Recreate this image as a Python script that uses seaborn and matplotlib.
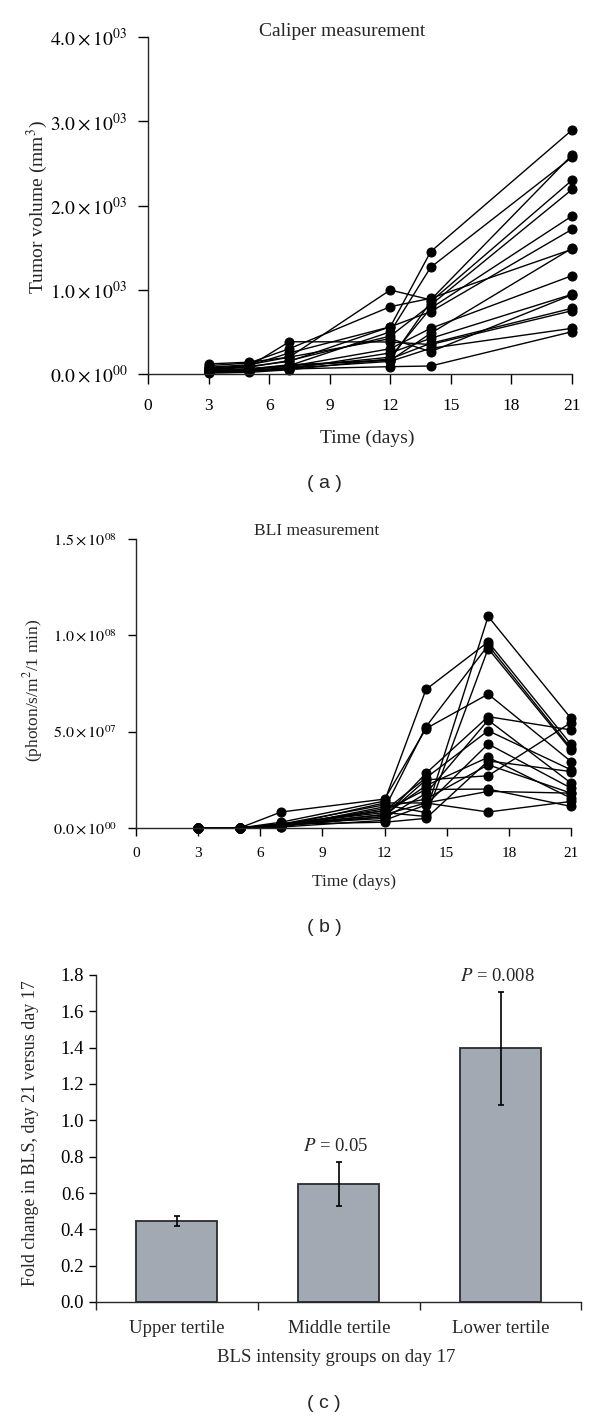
import matplotlib
matplotlib.use("Agg")
import matplotlib.pyplot as plt
import numpy as np
import pandas as pd
import seaborn as sns

# (a) caliper tumour volume, mm^3 -- one row per mouse
caliper_days = [3, 5, 7, 12, 14, 21]
caliper_volume = [
    [60, 90, 150, 560, 1452, 2896],
    [40, 60, 100, 500, 1266, 2572],
    [80, 110, 200, 997, 880, 2599],
    [30, 50, 100, 170, 858, 2300],
    [50, 80, 160, 450, 819, 2190],
    [20, 40, 80, 200, 780, 1875],
    [70, 100, 250, 560, 740, 1717],
    [30, 60, 110, 160, 483, 1492],
    [100, 130, 300, 799, 898, 1480],
    [40, 60, 90, 300, 542, 1167],
    [20, 30, 60, 250, 423, 946],
    [10, 20, 50, 180, 364, 780],
    [50, 90, 383, 380, 350, 751],
    [30, 40, 70, 150, 305, 542],
    [20, 40, 60, 87, 95, 502],
    [120, 140, 200, 420, 265, 940],
]

# (b) BLI signal, photon/s/m^2/1 min (x 1e7)
bli_days = [3, 5, 7, 12, 14, 17, 21]
bli_signal = [
    [0, 0, 0.2, 1.2, 0.8, 10.98, 5.69],
    [0, 0, 0.3, 1.4, 7.19, 9.66, 4.34],
    [0, 0, 0.1, 1.0, 5.26, 9.48, 4.14],
    [0, 0, 0.83, 1.5, 5.16, 6.95, 3.45],
    [0, 0, 0.2, 0.8, 0.6, 9.31, 4.05],
    [0, 0, 0.1, 0.6, 2.84, 5.78, 5.09],
    [0, 0, 0.2, 0.5, 1.8, 5.6, 2.33],
    [0, 0, 0.1, 0.9, 2.6, 5.05, 3.02],
    [0, 0, 0.05, 0.4, 1.2, 4.36, 2.07],
    [0, 0, 0.1, 0.7, 2.2, 3.67, 1.55],
    [0, 0, 0.2, 0.3, 0.5, 3.48, 2.93],
    [0, 0, 0.05, 1.1, 1.5, 3.28, 1.81],
    [0, 0, 0.1, 0.6, 2.5, 2.71, 5.47],
    [0, 0, 0.2, 0.9, 2.0, 2.02, 1.12],
    [0, 0, 0.15, 0.7, 1.3, 1.9, 1.81],
    [0, 0, 0.1, 1.3, 1.3, 0.83, 1.38],
]

# (c) fold change day 21 vs day 17
tertile_groups = ["Upper tertile", "Middle tertile", "Lower tertile"]
fold_change = [0.448, 0.651, 1.396]
fold_change_err = [0.027, 0.122, 0.31]
p_values = [None, "0.05", "0.008"]


def to_long(days, rows, scale=1.0):
    recs = []
    for m, row in enumerate(rows):
        for d, v in zip(days, row):
            recs.append({"mouse": m, "day": d, "value": v * scale})
    return pd.DataFrame(recs)


def sci_label(v):
    if v == 0:
        return r"$0.0\times10^{00}$"
    e = int(np.floor(np.log10(v)))
    return rf"${v / 10**e:.1f}\times10^{{{e:02d}}}$"


sns.set_style("ticks")
plt.rcParams["font.family"] = ["Liberation Serif", "DejaVu Serif"]
plt.rcParams["mathtext.fontset"] = "stix"
plt.rcParams["axes.linewidth"] = 1.0

fig = plt.figure(figsize=(6, 14.2), dpi=100)
W, H = 600, 1420


def add_axes(left, right, top, bottom):
    return fig.add_axes([left / W, 1 - bottom / H, (right - left) / W, (bottom - top) / H])


line_kw = dict(x="day", y="value", units="mouse", estimator=None, color="black",
               marker="o", markersize=6.5, markeredgecolor="black", linewidth=1.0,
               legend=False, clip_on=False)

# ---- panel (a)
ax_a = add_axes(148, 572, 37, 374)
sns.lineplot(data=to_long(caliper_days, caliper_volume), ax=ax_a, **line_kw)
ax_a.set_xlim(0, 21)
ax_a.set_ylim(0, 4000)
ax_a.set_xticks(range(0, 22, 3))
ax_a.set_yticks([0, 1000, 2000, 3000, 4000])
ax_a.set_yticklabels([sci_label(v) for v in [0, 1000, 2000, 3000, 4000]])
ax_a.tick_params(axis="x", labelsize=12.5, direction="out", length=7, width=1, pad=10, colors="black")
ax_a.tick_params(axis="y", labelsize=14, direction="out", length=7, width=1, pad=8, colors="black")
ax_a.set_xlabel("Time (days)", fontsize=14, va="center")
ax_a.xaxis.set_label_coords((367 - 148) / 424, (374 - 438) / 337)
ax_a.set_ylabel("Tumor volume (mm$^{3}$)", fontsize=14, va="center")
ax_a.yaxis.set_label_coords((37 - 148) / 424, (374 - 207) / 337)
fig.text(342 / W, 1 - 31 / H, "Caliper measurement", fontsize=14, ha="center", va="center")
sns.despine(ax=ax_a)

# ---- panel (b)
ax_b = add_axes(136, 571, 539, 828)
sns.lineplot(data=to_long(bli_days, bli_signal, 1e7), ax=ax_b, **line_kw)
ax_b.set_xlim(0, 21)
ax_b.set_ylim(0, 1.5e8)
ax_b.set_xticks(range(0, 22, 3))
bli_ticks = [0, 5e7, 1e8, 1.5e8]
ax_b.set_yticks(bli_ticks)
ax_b.set_yticklabels([sci_label(v) for v in bli_ticks])
ax_b.tick_params(axis="x", labelsize=11, direction="out", length=6, width=1, pad=8, colors="black")
ax_b.tick_params(axis="y", labelsize=11.5, direction="out", length=6, width=1, pad=8, colors="black")
ax_b.set_xlabel("Time (days)", fontsize=12.5, va="center")
ax_b.xaxis.set_label_coords((354 - 136) / 435, (828 - 882) / 289)
ax_b.set_ylabel("(photon/s/m$^{2}$/1 min)", fontsize=12.5, va="center")
ax_b.yaxis.set_label_coords((33 - 136) / 435, (828 - 690) / 289)
fig.text(317 / W, 1 - 531 / H, "BLI measurement", fontsize=12.5, ha="center", va="center")
sns.despine(ax=ax_b)

# ---- panel (c)
ax_c = add_axes(96, 581.5, 975, 1302)
sns.barplot(x=tertile_groups, y=fold_change, color="#A3A9B2", saturation=1,
            edgecolor="#2b2b2b", linewidth=1.3, width=0.5, errorbar=None, ax=ax_c)
ax_c.errorbar(range(len(tertile_groups)), fold_change, yerr=fold_change_err, fmt="none",
              ecolor="black", elinewidth=1.2, capsize=2.5, capthick=1.2)
for i, (v, e, p) in enumerate(zip(fold_change, fold_change_err, p_values)):
    if p:
        ax_c.text(i - 0.02, v + e + 0.085, f"$\\it{{P}}$ = {p}", fontsize=13.5,
                  ha="center", va="center")
ax_c.set_xlim(-0.5, 2.5)
ax_c.set_ylim(0, 1.8)
ax_c.set_yticks(np.arange(0, 1.81, 0.2))
ax_c.set_yticklabels([f"{v:.1f}" for v in np.arange(0, 1.81, 0.2)])
ax_c.set_xticks([-0.5, 0.5, 1.5, 2.5])
ax_c.set_xticklabels([])
ax_c.set_xticks(range(len(tertile_groups)), tertile_groups, minor=True)
ax_c.tick_params(axis="x", which="major", direction="out", length=6, width=1)
ax_c.tick_params(axis="x", which="minor", length=0, labelsize=13.5, pad=13)
ax_c.tick_params(axis="y", labelsize=13.5, direction="out", length=5, width=1, colors="black")
ax_c.set_xlabel("BLS intensity groups on day 17", fontsize=13.5, va="center")
ax_c.xaxis.set_label_coords((336 - 96) / 485.5, (1302 - 1357) / 327)
ax_c.set_ylabel("Fold change in BLS, day 21 versus day 17", fontsize=13, va="center")
ax_c.yaxis.set_label_coords((31 - 96) / 485.5, (1302 - 1133) / 327)
sns.despine(ax=ax_c)

# panel captions
for label, y in [("( a )", 483), ("( b )", 928), ("( c )", 1403)]:
    fig.text(324 / W, 1 - y / H, label, fontsize=14, ha="center", va="center",
             family=["Liberation Sans", "DejaVu Sans"])

fig.savefig("out.png", dpi=100)
